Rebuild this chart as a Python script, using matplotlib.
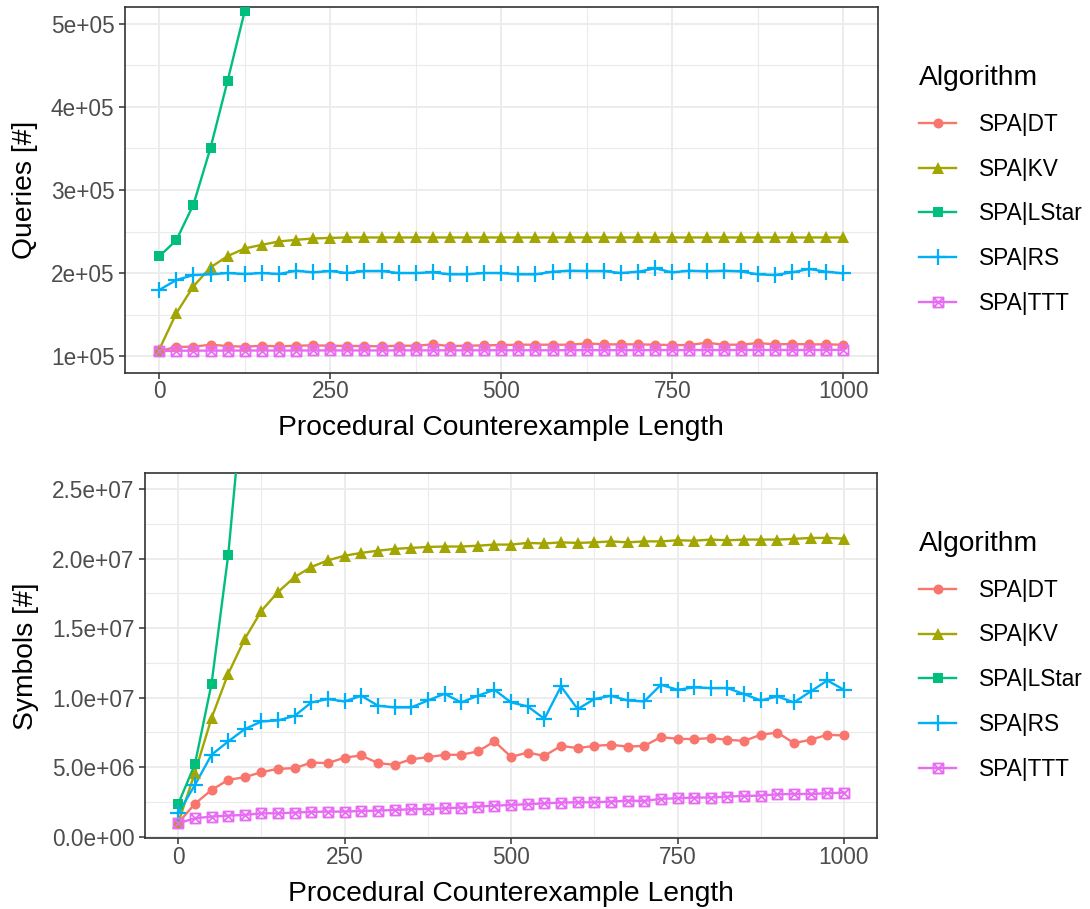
import numpy as np
import matplotlib
matplotlib.use("Agg")
import matplotlib.pyplot as plt
from matplotlib.path import Path
from matplotlib.lines import Line2D
from matplotlib.ticker import MultipleLocator, FuncFormatter

plt.rcParams['font.family'] = ['Liberation Sans', 'DejaVu Sans']

# datos
longitud = list(range(0, 1001, 25))
algoritmos = ["SPA|DT", "SPA|KV", "SPA|LStar", "SPA|RS", "SPA|TTT"]
colores = ["#F8766D", "#A3A500", "#00BF7D", "#00B0F6", "#E76BF3"]

# Queries [#]
q_dt = [1.06e5, 1.11e5, 1.113e5, 1.137e5, 1.121e5, 1.113e5, 1.125e5, 1.117e5, 1.125e5, 1.129e5,
        1.125e5, 1.121e5, 1.121e5, 1.117e5, 1.125e5, 1.125e5, 1.141e5, 1.121e5, 1.125e5, 1.129e5,
        1.133e5, 1.137e5, 1.137e5, 1.137e5, 1.137e5, 1.153e5, 1.141e5, 1.141e5, 1.141e5, 1.137e5,
        1.133e5, 1.133e5, 1.161e5, 1.137e5, 1.137e5, 1.157e5, 1.141e5, 1.145e5, 1.141e5, 1.141e5,
        1.137e5]
q_kv = [1.079e5, 1.516e5, 1.84e5, 2.068e5, 2.204e5, 2.296e5, 2.34e5, 2.38e5, 2.40e5, 2.416e5,
        2.423e5, 2.428e5, 2.428e5, 2.428e5, 2.428e5, 2.428e5, 2.428e5, 2.428e5, 2.428e5, 2.428e5,
        2.428e5, 2.428e5, 2.428e5, 2.428e5, 2.428e5, 2.428e5, 2.428e5, 2.428e5, 2.428e5, 2.428e5,
        2.428e5, 2.428e5, 2.428e5, 2.428e5, 2.428e5, 2.428e5, 2.428e5, 2.428e5, 2.428e5, 2.428e5,
        2.428e5]
q_lstar = [2.2e5, 2.396e5, 2.824e5, 3.508e5, 4.316e5, 5.156e5, 6.1e5]
q_rs = [1.796e5, 1.916e5, 1.976e5, 1.984e5, 2.0e5, 1.988e5, 2.0e5, 1.988e5, 2.028e5, 2.008e5,
        2.024e5, 2.0e5, 2.024e5, 2.024e5, 2.0e5, 2.0e5, 2.008e5, 1.984e5, 1.984e5, 2.0e5,
        2.0e5, 1.984e5, 1.984e5, 2.016e5, 2.028e5, 2.024e5, 2.024e5, 2.0e5, 2.016e5, 2.056e5,
        2.008e5, 2.028e5, 2.02e5, 2.028e5, 2.02e5, 1.984e5, 1.976e5, 2.008e5, 2.048e5, 2.016e5,
        1.996e5]
q_ttt = [1.06e5, 1.065e5, 1.065e5, 1.066e5, 1.066e5, 1.067e5, 1.067e5, 1.067e5, 1.067e5, 1.068e5,
         1.068e5, 1.068e5, 1.068e5, 1.068e5, 1.069e5, 1.069e5, 1.069e5, 1.069e5, 1.069e5, 1.07e5,
         1.07e5, 1.07e5, 1.07e5, 1.07e5, 1.071e5, 1.071e5, 1.071e5, 1.071e5, 1.071e5, 1.072e5,
         1.072e5, 1.072e5, 1.072e5, 1.072e5, 1.073e5, 1.073e5, 1.073e5, 1.073e5, 1.073e5, 1.074e5,
         1.075e5]

# Symbols [#]
s_dt = [0.99e6, 2.36e6, 3.36e6, 4.08e6, 4.28e6, 4.64e6, 4.88e6, 4.93e6, 5.33e6, 5.29e6,
        5.69e6, 5.84e6, 5.29e6, 5.17e6, 5.57e6, 5.72e6, 5.89e6, 5.89e6, 6.13e6, 6.85e6,
        5.74e6, 6.05e6, 5.81e6, 6.53e6, 6.37e6, 6.53e6, 6.61e6, 6.48e6, 6.53e6, 7.16e6,
        7.04e6, 7.02e6, 7.09e6, 6.97e6, 6.89e6, 7.33e6, 7.49e6, 6.73e6, 6.97e6, 7.33e6,
        7.28e6]
s_kv = [1.0e6, 4.6e6, 8.53e6, 1.172e7, 1.424e7, 1.626e7, 1.761e7, 1.869e7, 1.941e7, 1.989e7,
        2.022e7, 2.042e7, 2.058e7, 2.071e7, 2.078e7, 2.085e7, 2.088e7, 2.088e7, 2.094e7, 2.102e7,
        2.102e7, 2.114e7, 2.11e7, 2.118e7, 2.114e7, 2.118e7, 2.125e7, 2.118e7, 2.125e7, 2.125e7,
        2.133e7, 2.13e7, 2.138e7, 2.133e7, 2.138e7, 2.138e7, 2.138e7, 2.143e7, 2.15e7, 2.15e7,
        2.145e7]
s_lstar = [2.36e6, 5.21e6, 1.10e7, 2.025e7, 3.31e7]
s_rs = [1.68e6, 3.72e6, 5.89e6, 6.85e6, 7.74e6, 8.29e6, 8.36e6, 8.70e6, 9.66e6, 9.90e6,
        9.73e6, 1.014e7, 9.42e6, 9.30e6, 9.30e6, 9.80e6, 1.028e7, 9.66e6, 1.014e7, 1.057e7,
        9.66e6, 9.37e6, 8.48e6, 1.081e7, 9.18e6, 9.90e6, 1.014e7, 9.80e6, 9.73e6, 1.093e7,
        1.057e7, 1.074e7, 1.069e7, 1.069e7, 1.026e7, 9.80e6, 1.009e7, 9.66e6, 1.045e7, 1.124e7,
        1.057e7]
s_ttt = [0.96e6, 1.32e6, 1.44e6, 1.51e6, 1.56e6, 1.68e6, 1.68e6, 1.73e6, 1.78e6, 1.80e6,
         1.80e6, 1.85e6, 1.87e6, 1.92e6, 1.97e6, 2.0e6, 2.04e6, 2.09e6, 2.16e6, 2.23e6,
         2.28e6, 2.33e6, 2.40e6, 2.45e6, 2.47e6, 2.47e6, 2.52e6, 2.59e6, 2.57e6, 2.72e6,
         2.76e6, 2.81e6, 2.81e6, 2.88e6, 2.93e6, 2.95e6, 3.05e6, 3.07e6, 3.07e6, 3.12e6,
         3.17e6]

# cuadrado con una X (shape 7 de ggplot)
caja_x = Path([(-1, -1), (1, -1), (1, 1), (-1, 1), (-1, -1), (-1, -1), (1, 1), (-1, 1), (1, -1)],
              [Path.MOVETO, Path.LINETO, Path.LINETO, Path.LINETO, Path.CLOSEPOLY,
               Path.MOVETO, Path.LINETO, Path.MOVETO, Path.LINETO])

estilos = [
    dict(marker='o', ms=7.2, mew=0),
    dict(marker='^', ms=8.7, mew=0),
    dict(marker='s', ms=7.2, mew=0),
    dict(marker='+', ms=11, mew=1.6),
    dict(marker=caja_x, ms=7.2, mew=1.3, mfc='none'),
]

GRIS_T = '#333333'
TXT_CHICO = 16.3
TXT_GRANDE = 20.3


def dibujar(ax, datos, ylim, ymaj, ymin, fmt, ylabel):
    for i, y in enumerate(datos):
        ax.plot(longitud[:len(y)], y, color=colores[i], lw=1.7, zorder=3)
    for i, y in enumerate(datos):
        ax.plot(longitud[:len(y)], y, color=colores[i], ls='none', zorder=4,
                mec=colores[i], **estilos[i])
    ax.set_xlim(-50, 1050)
    ax.set_ylim(*ylim)
    ax.set_xticks([0, 250, 500, 750, 1000])
    ax.xaxis.set_minor_locator(MultipleLocator(125))
    ax.yaxis.set_major_locator(MultipleLocator(ymaj))
    ax.yaxis.set_minor_locator(MultipleLocator(ymin))
    ax.yaxis.set_major_formatter(FuncFormatter(fmt))
    ax.grid(True, which='major', color='#EBEBEB', lw=1.3, zorder=0)
    ax.grid(True, which='minor', color='#EBEBEB', lw=0.8, zorder=0)
    ax.set_axisbelow(True)
    ax.tick_params(which='major', length=4, width=1.1, color=GRIS_T,
                   labelsize=TXT_CHICO, labelcolor='#4D4D4D')
    ax.tick_params(axis='x', pad=1.5)
    ax.tick_params(axis='y', pad=3.5)
    ax.tick_params(which='minor', length=0)
    for s in ax.spines.values():
        s.set_color(GRIS_T)
        s.set_linewidth(1.2)
    ax.set_xlabel('Procedural Counterexample Length', fontsize=TXT_GRANDE, labelpad=8.5)
    ax.set_ylabel(ylabel, fontsize=TXT_GRANDE, labelpad=9)
    manejadores = [Line2D([], [], color=colores[i], lw=1.7, mec=colores[i], **estilos[i])
                   for i in range(5)]
    bb = ax.get_position()
    centro = (bb.y0 + bb.y1) / 2
    leg = ax.legend(manejadores, algoritmos, title='Algorithm', loc='center left',
                    bbox_to_anchor=(919 / 1090, centro), bbox_transform=fig.transFigure,
                    frameon=False, fontsize=TXT_CHICO, title_fontsize=TXT_GRANDE,
                    handlelength=1.65, handletextpad=1.0, labelspacing=0.96,
                    borderaxespad=0, borderpad=0)
    leg._legend_box.align = 'left'


fig = plt.figure(figsize=(10.9, 9.09), dpi=100)
ax1 = fig.add_axes([0.1147, 0.5900, 0.6904, 0.4020])
ax2 = fig.add_axes([0.1330, 0.0778, 0.6718, 0.4015])

dibujar(ax1, [q_dt, q_kv, q_lstar, q_rs, q_ttt], (0.8e5, 5.2e5), 1e5, 0.5e5,
        lambda v, p: f"{v:.0e}", 'Queries [#]')
dibujar(ax2, [s_dt, s_kv, s_lstar, s_rs, s_ttt], (-1.2e5, 2.615e7), 5e6, 2.5e6,
        lambda v, p: f"{v:.1e}", 'Symbols [#]')

fig.savefig('out.png', dpi=100)
